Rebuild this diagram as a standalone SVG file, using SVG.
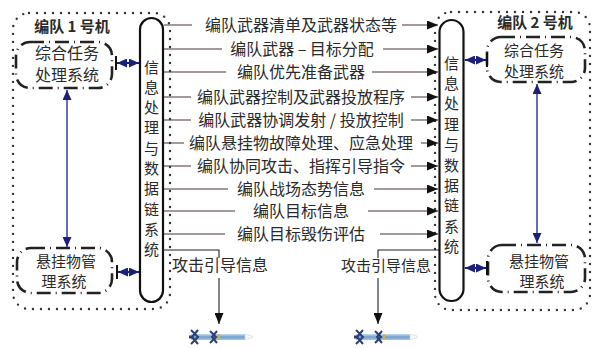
<svg xmlns="http://www.w3.org/2000/svg" width="592" height="348" viewBox="0 0 592 348">
  <defs>
    <marker id="ah" markerUnits="userSpaceOnUse" markerWidth="11" markerHeight="9" refX="11" refY="4.5" orient="auto-start-reverse">
      <path d="M0,0 L11,4.5 L0,9 z" fill="#111"/>
    </marker>
    <marker id="nv" markerUnits="userSpaceOnUse" markerWidth="10" markerHeight="9" refX="10" refY="4.5" orient="auto-start-reverse">
      <path d="M0,0 L10,4.5 L0,9 z" fill="#1c1f78"/>
    </marker>
    <linearGradient id="body" x1="0" y1="0" x2="0" y2="1">
      <stop offset="0" stop-color="#c9def0"/>
      <stop offset="0.5" stop-color="#6f9fcc"/>
      <stop offset="1" stop-color="#a9c6e2"/>
    </linearGradient>
    <g id="missile">
      <rect x="2" y="-3" width="54" height="6" fill="url(#body)"/>
      <path d="M56,-3 L63,-1 L64,0 L63,1 L56,3 z" fill="#f4f7fa" stroke="#c9d6e3" stroke-width="0.6"/>
      <rect x="29" y="-3" width="2" height="6" fill="#d9b04a"/>
      <path d="M2,-7 L9,0 L2,7 M9,-7 L3,0 L9,7" stroke="#2b3f72" stroke-width="2" fill="none"/>
      <path d="M21,-6 L27,0 L21,6 M28,-6 L23,0 L28,6" stroke="#2b3f72" stroke-width="2" fill="none"/>
      <rect x="0" y="-1.5" width="4" height="3" fill="#2b3f72"/>
    </g>
  </defs>
  <style>
    text { font-family: "Noto Sans CJK SC", "Liberation Sans", sans-serif; fill: #2a2a2a; }
    .lbl { font-size: 16px; text-anchor: middle; }
    .sm { font-size: 15px; text-anchor: middle; }
    .title { font-size: 15px; font-weight: bold; text-anchor: middle; }
    .frame { fill: none; stroke: #333; stroke-width: 2.4; stroke-linecap: round; stroke-dasharray: 0 8; }
    .sys { fill: none; stroke: #222; stroke-width: 2.6; stroke-dasharray: 14 5 1 5; }
    .pill { fill: #fff; stroke: #111; stroke-width: 2.2; }
    .msg { stroke: #4a3434; stroke-width: 1.1; fill: none; marker-end: url(#ah); }
    .plain { stroke: #222; stroke-width: 1.1; fill: none; }
    .link { stroke: #1c1f78; stroke-width: 2; marker-start: url(#nv); marker-end: url(#nv); }
    .vlink { stroke: #3a48b0; stroke-width: 1.6; marker-start: url(#nv); marker-end: url(#nv); }
    .bar { stroke: #111; stroke-width: 2; }
  </style>

  <rect width="592" height="348" fill="#fff"/>

  <!-- aircraft 1 -->
  <g id="aircraft1">
    <rect class="frame" x="13" y="13" width="157" height="296" rx="16"/>
    <text class="title" x="72" y="32">编队 1 号机</text>
  </g>
  <!-- aircraft 2 -->
  <g id="aircraft2">
    <rect class="frame" x="435" y="12" width="155" height="298" rx="16"/>
    <text class="title" x="535" y="28">编队 2 号机</text>
  </g>

  <g id="mission1">
    <rect class="sys" x="16" y="42" width="96" height="46" rx="14"/>
    <text class="lbl" x="67" y="59">综合任务</text>
    <text class="lbl" x="67" y="81">处理系统</text>
  </g>
  <g id="stores1">
    <rect class="sys" x="17" y="248" width="95" height="45" rx="14"/>
    <text class="sm" x="66" y="266.5">悬挂物管</text>
    <text class="sm" x="64" y="287">理系统</text>
  </g>
  <g id="mission2">
    <rect class="sys" x="487" y="37" width="98" height="45" rx="14"/>
    <text class="sm" x="534" y="56">综合任务</text>
    <text class="sm" x="534" y="76.5">处理系统</text>
  </g>
  <g id="stores2">
    <rect class="sys" x="488" y="245" width="97" height="47" rx="14"/>
    <text class="sm" x="539" y="266.5">悬挂物管</text>
    <text class="sm" x="542" y="287">理系统</text>
  </g>

  <g id="datalink1">
    <rect class="pill" x="140" y="18" width="23" height="284" rx="11.5"/>
    <text class="sm" x="151.5" y="72.5">信</text>
    <text class="sm" x="151.5" y="92.8">息</text>
    <text class="sm" x="151.5" y="113.1">处</text>
    <text class="sm" x="151.5" y="133.4">理</text>
    <text class="sm" x="151.5" y="153.7">与</text>
    <text class="sm" x="151.5" y="174">数</text>
    <text class="sm" x="151.5" y="194.3">据</text>
    <text class="sm" x="151.5" y="214.6">链</text>
    <text class="sm" x="151.5" y="234.9">系</text>
    <text class="sm" x="151.5" y="255.2">统</text>
  </g>
  <g id="datalink2">
    <rect class="pill" x="439.5" y="20" width="24" height="281" rx="12"/>
    <text class="sm" x="451.5" y="68.5">信</text>
    <text class="sm" x="451.5" y="88.9">息</text>
    <text class="sm" x="451.5" y="109.3">处</text>
    <text class="sm" x="451.5" y="129.7">理</text>
    <text class="sm" x="451.5" y="150.1">与</text>
    <text class="sm" x="451.5" y="170.5">数</text>
    <text class="sm" x="451.5" y="190.9">据</text>
    <text class="sm" x="451.5" y="211.3">链</text>
    <text class="sm" x="451.5" y="231.7">系</text>
    <text class="sm" x="451.5" y="252.1">统</text>
  </g>

  <g id="weapon1">
    <use href="#missile" x="189" y="337"/>
  </g>
  <g id="weapon2">
    <use href="#missile" x="354" y="337"/>
  </g>

  <!-- connectors -->
  <g id="connectors">
    <!-- internal links, aircraft 1 -->
    <line class="bar" x1="116" y1="56" x2="116" y2="70"/>
    <line class="link" x1="117" y1="63" x2="139" y2="63"/>
    <line class="bar" x1="117" y1="265" x2="117" y2="279"/>
    <line class="link" x1="118" y1="272" x2="139" y2="272"/>
    <line class="vlink" x1="67" y1="90" x2="67" y2="247"/>
    <!-- internal links, aircraft 2 -->
    <line class="bar" x1="487" y1="53" x2="487" y2="67"/>
    <line class="link" x1="465" y1="60" x2="486" y2="60"/>
    <line class="bar" x1="487" y1="261" x2="487" y2="275"/>
    <line class="link" x1="465" y1="268" x2="486" y2="268"/>
    <line class="vlink" x1="537" y1="84" x2="537" y2="243"/>

    <!-- inter-aircraft messages -->
    <path class="msg" d="M192,25 H164 M402,25 H438"/>
    <path class="msg" d="M222,49 H164 M383,49 H438"/>
    <path class="msg" d="M226,72 H164 M372,72 H438"/>
    <path class="msg" d="M191,97 H164 M411,97 H438"/>
    <path class="msg" d="M191,120 H164 M411,120 H438"/>
    <path class="msg" d="M184,143 H164 M421,143 H438"/>
    <path class="msg" d="M191,166 H164 M411,166 H438"/>
    <path class="msg" d="M228,189 H164 M374,189 H438"/>
    <path class="msg" d="M235,211 H164 M368,211 H438"/>
    <path class="msg" d="M225,234 H164 M380,234 H438"/>

    <!-- guidance to weapons -->
    <path class="plain" d="M163,250 H219 V258"/>
    <line class="plain" x1="219" y1="278" x2="219" y2="324" marker-end="url(#ah)"/>
    <path class="plain" d="M439,250 H378 V258"/>
    <line class="plain" x1="378" y1="278" x2="378" y2="324" marker-end="url(#ah)"/>
  </g>

  <!-- message labels -->
  <g id="messages">
    <text class="lbl" x="301" y="31">编队武器清单及武器状态等</text>
    <text class="lbl" x="302" y="55">编队武器 – 目标分配</text>
    <text class="lbl" x="301" y="78">编队优先准备武器</text>
    <text class="lbl" x="301" y="103">编队武器控制及武器投放程序</text>
    <text class="lbl" x="301" y="126">编队武器协调发射 / 投放控制</text>
    <text class="lbl" x="301" y="149">编队悬挂物故障处理、应急处理</text>
    <text class="lbl" x="301" y="172">编队协同攻击、指挥引导指令</text>
    <text class="lbl" x="301" y="195">编队战场态势信息</text>
    <text class="lbl" x="301" y="217">编队目标信息</text>
    <text class="lbl" x="301" y="240">编队目标毁伤评估</text>
    <text class="lbl" x="220" y="271">攻击引导信息</text>
    <text class="sm" x="386" y="271">攻击引导信息</text>
  </g>
</svg>
